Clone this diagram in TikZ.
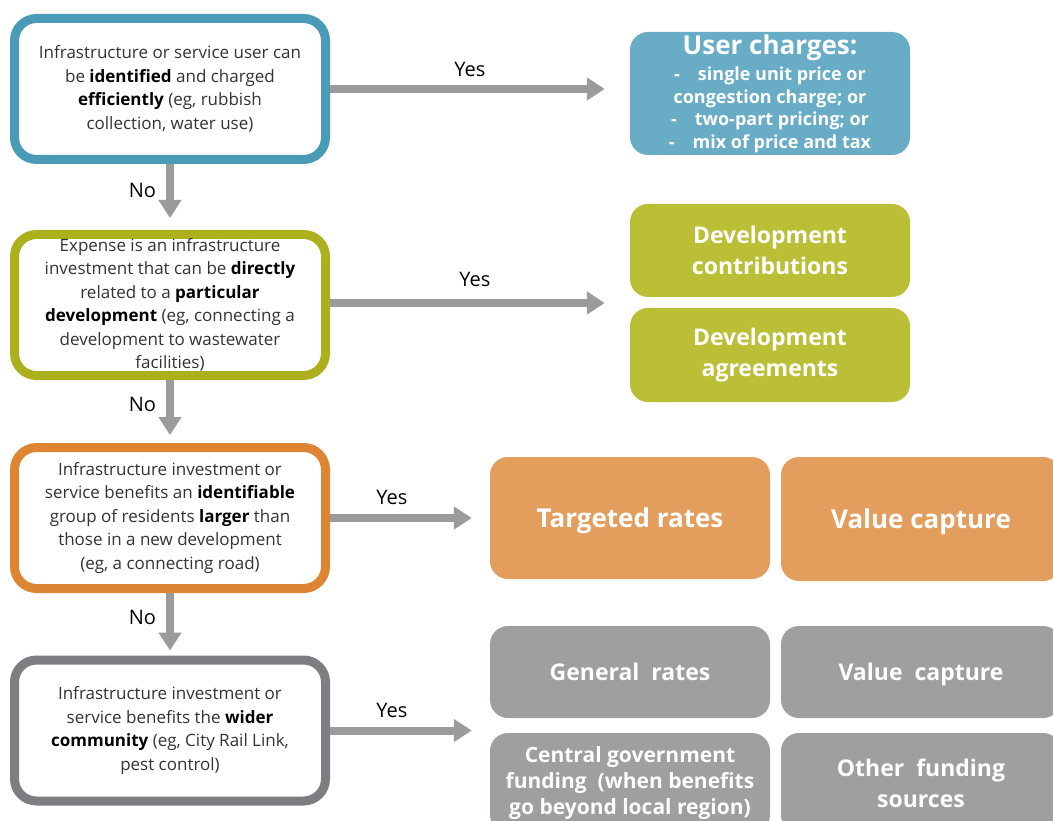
\documentclass[tikz,border=0pt]{standalone}
\usepackage{fontspec}
\setmainfont{Open Sans}
\usetikzlibrary{arrows.meta}

\definecolor{qblue}{HTML}{4A9BB8}
\definecolor{qolive}{HTML}{ACB01C}
\definecolor{qorange}{HTML}{DE8534}
\definecolor{qgray}{HTML}{7E7E82}
\definecolor{ablue}{HTML}{68ACC5}
\definecolor{aolive}{HTML}{BBBF36}
\definecolor{aorange}{HTML}{E39D5D}
\definecolor{agray}{HTML}{A09E9F}
\definecolor{flowgray}{HTML}{9B9B9B}

\begin{document}
\begin{tikzpicture}[
  x=1pt, y=-1pt,
  every node/.style = {align=center, inner sep=0pt},
  question/.style = {draw=#1, line width=9pt, fill=white, rounded corners=22pt,
    minimum width=311pt, minimum height=141pt, text=black!80,
    font=\fontsize{17}{23.5}\selectfont},
  answer/.style = {fill=#1, rounded corners=18pt, minimum width=280pt,
    text=white, font=\bfseries\fontsize{23}{31}\selectfont}
  ]
  \useasboundingbox (0,0) rectangle (1053,821);
  \clip (0,0) rectangle (1053,821);

  % questions
  \node[question=qblue] (q1) at (170,89)
    {Infrastructure or service user can\\
     be \textbf{\color{black}identified} and charged\\
     \textbf{\color{black}efficiently} (eg, rubbish\\
     collection, water use)};
  \node[question=qolive] (q2) at (170,305)
    {Expense is an infrastructure\\
     investment that can be \textbf{\color{black}directly}\\
     related to a \textbf{\color{black}particular}\\
     \textbf{\color{black}development} (eg, connecting a\\
     development to wastewater\\
     facilities)};
  \node[question=qorange] (q3) at (170,518)
    {Infrastructure investment or\\
     service benefits an \textbf{\color{black}identifiable}\\
     group of residents \textbf{\color{black}larger} than\\
     those in a new development\\
     (eg, a connecting road)};
  \node[question=qgray] (q4) at (170,730.5)
    {Infrastructure investment or\\
     service benefits the \textbf{\color{black}wider}\\
     \textbf{\color{black}community} (eg, City Rail Link,\\
     pest control)};

  % answers
  \node[answer=ablue, minimum height=123pt, font=\bfseries\fontsize{18}{22.5}\selectfont] (uc) at (770,93.5)
    {{\fontsize{26}{22.5}\selectfont User charges:}\\[4pt]
     -\quad single unit price or\\
     congestion charge; or\\
     -\quad two-part pricing; or\\
     -\quad mix of price and tax};
  \node[answer=aolive, minimum height=93pt] (dc) at (770,250.5)
    {Development\\contributions};
  \node[answer=aolive, minimum height=94pt] (da) at (770,355)
    {Development\\agreements};
  \node[answer=aorange, minimum height=122pt, text depth=0pt, font=\bfseries\fontsize{26}{31}\selectfont] (tr) at (630,518)
    {Targeted rates};
  \node[answer=aorange, minimum height=124pt, text depth=0pt, font=\bfseries\fontsize{26}{31}\selectfont] (vc1) at (921,519)
    {Value capture};
  \node[answer=agray, minimum height=92pt, text depth=0pt] (gr) at (630,672)
    {General\ \ rates};
  \node[answer=agray, minimum height=92pt, text depth=0pt] (vc2) at (921,672)
    {Value\ \ capture};
  \node[answer=agray, minimum height=100pt, font=\bfseries\fontsize{21}{26}\selectfont] (cg) at (630,783)
    {Central government\\funding\ \ (when benefits\\go beyond local region)};
  \node[answer=agray, minimum height=100pt] (of) at (921,783)
    {Other\ \ funding\\sources};

  \tikzset{flow/.style = {draw=flowgray, line width=8pt,
    -{Triangle[width=22pt,length=18pt]}}}
  \tikzset{lbl/.style = {font=\fontsize{20}{22}\selectfont, text=black}}

  \draw[flow, shorten >=25pt] (q1.east) -- (q1.east -| uc.west)
    node[lbl, midway, above=8pt, xshift=-10pt] {Yes};
  \draw[flow, shorten >=25pt] ([yshift=2pt]q2.east) -- ([yshift=2pt]q2.east -| dc.west)
    node[lbl, midway, above=12pt, xshift=-5pt] {Yes};
  \draw[flow, shorten >=18pt] (q3.east) -- (q3.east -| tr.west)
    node[lbl, midway, above=9pt, xshift=-18pt] {Yes};
  \draw[flow, shorten >=18pt] (q4.east) -- (q4.east -| gr.west)
    node[lbl, midway, above=9pt, xshift=-18pt] {Yes};

  \draw[flow, shorten >=12pt] (q1.south) -- (q2.north)
    node[lbl, midway, left=10pt, yshift=7pt] {No};
  \draw[flow, shorten >=8pt] (q2.south) -- (q3.north)
    node[lbl, midway, left=10pt, yshift=7pt] {No};
  \draw[flow, shorten >=5pt] (q3.south) -- (q4.north)
    node[lbl, midway, left=10pt, yshift=7pt] {No};

\end{tikzpicture}
\end{document}
